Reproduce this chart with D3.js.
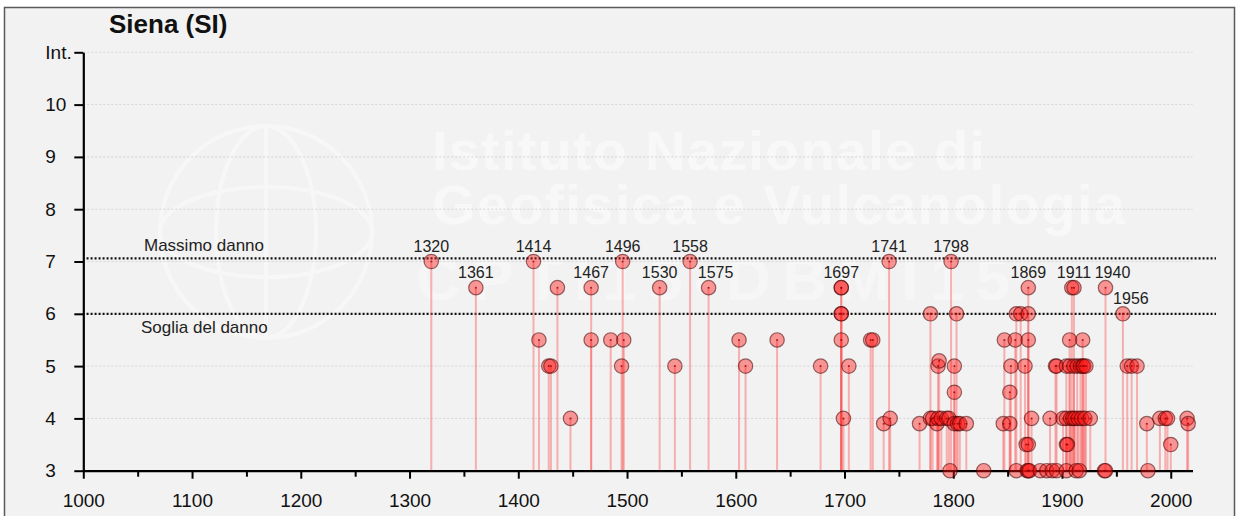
<!DOCTYPE html>
<html><head><meta charset="utf-8">
<script src="https://cdn.jsdelivr.net/npm/d3@7/dist/d3.min.js"></script>
<style>
body{margin:0;background:#fff;}
svg{display:block;font-family:"Liberation Sans",Arial,sans-serif;}
</style>
</head><body>
<svg id="c" width="1240" height="516"></svg>
<script>
const title = "Siena (SI)";
const years = [1320,1361,1414,1419,1428,1430,1436,1448,1467,1467,1485,1495,1496,1497,1530,1544,1558,1575,1603,1609,1638,1678,
  1697,1697,1697,1697,1697,1699,1704,1724,1726,1736,1741,1742,1769,1779,1779,1781,1785,1786,1786,1787,1789,1794,1796,1797,1798,
  1801,1801,1801,1803,1804,1806,1812,1828,1846,1847,1852,1852,1853,1857,1858,1858,1862,1866,1867,1868,1869,1869,1869,1869,1869,
  1870,1872,1880,1886,1889,1891,1894,1895,1895,1901,1904,1904,1904,1905,1904,1907,1907,1908,1909,1911,1910,1911,1912,1913,1914,
  1915,1916,1917,1918,1919,1919,1920,1921,1922,1926,1939,1940,1940,1956,1960,1964,1969,1978,1979,1990,1995,1997,2000,2015,2016];
const intensities = [7,6.5,7,5.5,5,5,6.5,4,6.5,5.5,5.5,5,7,5.5,6.5,5,7,6.5,5.5,5,5.5,5,
  6.5,6.5,6,6,5.5,4,5,5.5,5.5,3.9,7,4,3.9,6,4,4,3.9,4,5,5.1,4,4,4,3,7,
  5,4.5,3.9,6,3.9,3.9,3.9,3,3.9,5.5,4.5,3.9,5,5.5,6,3,6,5,3.5,3,6.5,6,5.5,3.5,3,
  3,4,3,3,4,3,5,5,3,4,5,4,3.5,3.5,3,5.5,5,4,6.5,6.5,4,5,4,3,5,
  4,3,5,4,5.5,5,5,4,5,4,3,6.5,3,6,5,5,5,3.9,3,4,4,4,3.5,4,3.9];
const labelYears = [1320,1361,1414,1467,1496,1530,1558,1575,1697,1741,1798,1869,1911,1940,1956];
const xMajorTicks = d3.range(1000, 2001, 100);
const xMinorTicks = d3.range(1050, 2000, 100);
const yTickValues = [3,4,5,6,7,8,9,10,11];
const yTickLabels = ["3","4","5","6","7","8","9","10","Int."];
const thresholdNames = ["Massimo danno","Soglia del danno"];
const thresholdValues = [7.06, 6];
const watermarkLines = ["Istituto Nazionale di","Geofisica e Vulcanologia"];
const watermarkCode = "CPTI15-DBMI15";

const svg = d3.select("#c");
const x = d3.scaleLinear().domain([1000, 2020]).range([83.3, 1192.5]);
const y = d3.scaleLinear().domain([3, 11]).range([470.7, 52.3]);

// frame
svg.append("rect").attr("x",4.5).attr("y",7.5).attr("width",1230).attr("height",530)
  .attr("fill","#f2f2f2").attr("stroke","#5a5a5a").attr("stroke-width",1.5);

// watermark (very faint)
const globe = svg.append("g").attr("fill","none").attr("stroke","#f7f7f7").attr("stroke-width",4);
globe.append("circle").attr("cx",266).attr("cy",232).attr("r",106);
globe.append("ellipse").attr("cx",266).attr("cy",232).attr("rx",50).attr("ry",106);
globe.append("ellipse").attr("cx",266).attr("cy",232).attr("rx",106).attr("ry",45);
globe.append("line").attr("x1",266).attr("y1",126).attr("x2",266).attr("y2",338);
const wm = svg.append("g").attr("fill","#f8f8f8").attr("font-weight","bold");
wm.append("text").attr("x",432).attr("y",170).attr("font-size",56).attr("textLength",553).text(watermarkLines[0]);
wm.append("text").attr("x",432).attr("y",224).attr("font-size",56).attr("textLength",693).text(watermarkLines[1]);
wm.append("text").attr("x",416).attr("y",300).attr("font-size",62).attr("fill","#f6f6f6")
  .attr("textLength",594).text(watermarkCode);

// grid
svg.append("g").selectAll("line").data(yTickValues.filter(v=>v>3)).join("line")
  .attr("x1",x(1000)).attr("x2",x(2020)).attr("y1",d=>y(d)).attr("y2",d=>y(d))
  .attr("stroke","#d4d4d4").attr("stroke-width",1).attr("stroke-dasharray","2,2");

// thresholds
thresholdValues.forEach((v,i)=>{
  svg.append("line").attr("x1",x(1003)).attr("x2",1216).attr("y1",y(v)).attr("y2",y(v))
    .attr("stroke","#111").attr("stroke-width",2.2).attr("stroke-dasharray","2,2");
});
svg.append("text").attr("x",144).attr("y",y(thresholdValues[0])-7).attr("font-size",17).attr("fill","#222").text(thresholdNames[0]);
svg.append("text").attr("x",141).attr("y",y(thresholdValues[1])+19).attr("font-size",17).attr("fill","#222").text(thresholdNames[1]);

const data = years.map((yr,i)=>({year:yr, v:intensities[i]}));

// stems
svg.append("g").selectAll("line").data(data).join("line")
  .attr("x1",d=>x(d.year)).attr("x2",d=>x(d.year)).attr("y1",y(3)).attr("y2",d=>y(d.v))
  .attr("stroke","rgba(250,90,90,0.45)").attr("stroke-width",2);

// axes
const xAxis = svg.append("g").attr("transform",`translate(0,${y(3)})`)
  .call(d3.axisBottom(x).tickValues(xMajorTicks).tickFormat(d3.format("d")).tickSize(8).tickSizeOuter(0).tickPadding(15));
xAxis.select(".domain").attr("stroke","#000").attr("stroke-width",2.2);
xAxis.selectAll(".tick line").attr("stroke","#000").attr("stroke-width",2);
xAxis.selectAll("text").attr("font-size",19).attr("fill","#111").attr("font-family","Liberation Sans, Arial, sans-serif");
const xMinor = svg.append("g").attr("transform",`translate(0,${y(3)})`)
  .call(d3.axisBottom(x).tickValues(xMinorTicks).tickFormat("").tickSize(6).tickSizeOuter(0));
xMinor.select(".domain").remove();
xMinor.selectAll(".tick line").attr("stroke","#000").attr("stroke-width",2);

const yAxis = svg.append("g").attr("transform",`translate(${x(1000)},0)`)
  .call(d3.axisLeft(y).tickValues(yTickValues).tickFormat((d,i)=>yTickLabels[i]).tickSize(9).tickSizeOuter(0));
yAxis.select(".domain").attr("stroke","#000").attr("stroke-width",2.2);
yAxis.selectAll(".tick line").attr("stroke","#000").attr("stroke-width",2);
yAxis.selectAll("text").attr("font-size",19).attr("fill","#111").attr("text-anchor","start").attr("x",-38)
  .attr("font-family","Liberation Sans, Arial, sans-serif");

// dots
const R = 7.2;
const dots = svg.append("g");
dots.selectAll("circle.d").data(data).join("circle").attr("class","d")
  .attr("cx",d=>x(d.year)).attr("cy",d=>y(d.v)).attr("r",R)
  .attr("fill","rgba(255,20,20,0.42)").attr("stroke","rgba(70,0,0,0.55)").attr("stroke-width",1.2);
dots.selectAll("circle.c").data(data).join("circle").attr("class","c")
  .attr("cx",d=>x(d.year)).attr("cy",d=>y(d.v)).attr("r",1)
  .attr("fill","rgba(150,0,0,0.8)");

// year labels with simple collision avoidance (shift right)
const labG = svg.append("g");
const placed = [];
const labelled = labelYears.map(yr=>({year:yr, v:d3.max(data.filter(e=>e.year===yr),e=>e.v)}));
const obstacles = labelled.map(d=>({x0:x(d.year)-R, x1:x(d.year)+R, y0:y(d.v)-R, y1:y(d.v)+R, year:d.year}));
labelled.forEach(d=>{
  const t = labG.append("text").attr("text-anchor","middle").attr("font-size",16).attr("fill","#222")
    .attr("y",y(d.v)-10).text(d.year);
  const w = t.node().getComputedTextLength();
  let cx = x(d.year);
  const top = y(d.v)-10-11.5, bot = y(d.v)-10;
  const hit = (l,r)=> placed.some(b=>l < b.x1+3 && r > b.x0-3 && top < b.y1 && bot > b.y0) ||
    obstacles.some(o=>o.year!==d.year && l < o.x1 && r > o.x0 && top < o.y1 && bot > o.y0);
  let guard = 0;
  while (hit(cx-w/2, cx+w/2) && guard++ < 80) cx += 1;
  t.attr("x",cx);
  placed.push({x0:cx-w/2, x1:cx+w/2, y0:top, y1:bot});
});

// title
svg.append("text").attr("x",109).attr("y",33).attr("font-size",26).attr("font-weight","bold").attr("fill","#111").text(title);
</script>
</body></html>
